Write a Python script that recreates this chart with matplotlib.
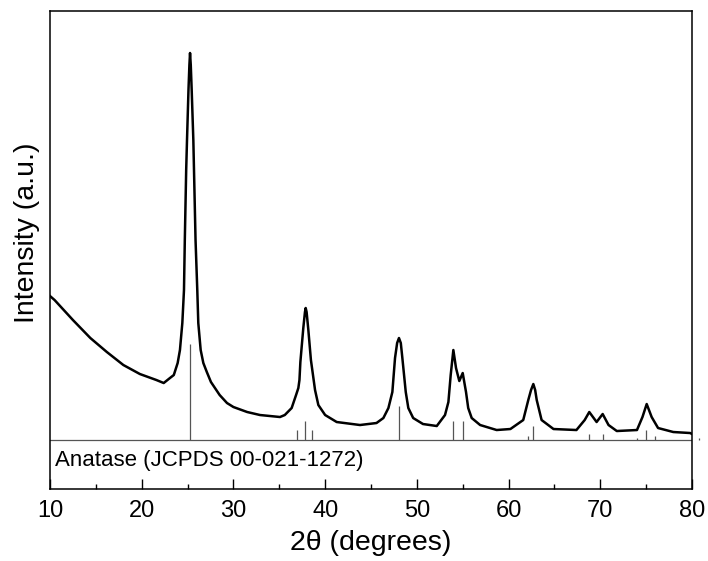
import numpy as np
import matplotlib
matplotlib.use("Agg")
import matplotlib.pyplot as plt
from matplotlib.ticker import MultipleLocator

plt.rcParams['font.family'] = ['Liberation Sans', 'DejaVu Sans']

# XRD 图谱数据 (2theta, 相对强度)
two_theta = [10.0, 10.5, 11.0, 12.5, 14.4, 16.2, 18.0, 19.8, 21.6, 22.4, 23.08, 23.5,
             23.92, 24.17, 24.43, 24.61, 24.7, 24.85, 24.94, 25.1, 25.2, 25.27, 25.35,
             25.45, 25.63, 25.75, 25.87, 26.06, 26.17, 26.43, 26.72, 27.1, 27.55, 28.5,
             29.3, 30.0, 31.5, 32.9, 35.08, 35.6, 36.35, 36.83, 37.08, 37.2, 37.3, 37.62,
             37.8, 37.88, 37.98, 38.17, 38.45, 38.9, 39.26, 40.0, 41.26, 43.8, 45.6,
             46.35, 46.9, 47.33, 47.62, 47.85, 48.05, 48.25, 48.42, 48.79, 49.07, 49.6,
             50.67, 52.17, 53.07, 53.44, 53.69, 53.98, 54.27, 54.63, 55.0, 55.36, 55.6,
             55.98, 56.9, 58.7, 60.2, 61.6, 62.15, 62.45, 62.7, 62.9, 63.07, 63.6, 64.9,
             67.4, 68.3, 68.8, 69.6, 70.26, 70.9, 71.8, 74.0, 74.6, 75.06, 75.6, 76.3,
             77.96, 79.8, 80.0]
intensity = [144, 140, 135, 120, 102, 88, 75, 66, 60, 57, 62, 65,
             77, 90, 117, 150, 200, 270, 300, 350, 375, 387, 375,
             350, 300, 250, 200, 150, 117, 90, 77, 68, 58, 45,
             37, 33, 28, 25, 23, 25, 32, 45, 52, 60, 78, 112,
             128, 132, 128, 110, 80, 50, 35, 25, 18, 15, 17,
             22, 32, 48, 82, 97, 102, 97, 82, 48, 32, 22,
             16, 14, 25, 38, 65, 90, 72, 59, 67, 48, 32,
             22, 15, 10, 11, 20, 40, 50, 56, 50, 40, 20, 11,
             10, 20, 28, 18, 26, 15, 9, 10, 23, 36, 23, 12,
             8, 7, 6]

# 标准卡片 JCPDS 00-021-1272 (锐钛矿)
ref_pos = [25.28, 36.95, 37.80, 38.58, 48.05, 53.89, 55.06, 62.12, 62.69,
           68.76, 70.31, 74.03, 75.03, 76.02, 80.72]
ref_int = [96, 10, 19, 10, 34, 19, 19, 4, 14, 6, 6, 2, 10, 4, 2]

fig = plt.figure(figsize=(7.08, 5.61), dpi=100)
ax = fig.add_axes([0.0706, 0.1283, 0.9068, 0.8521])

ax.plot(two_theta, intensity, color='black', lw=1.8)
sticks = ax.vlines(ref_pos, 0, ref_int, color='#555555', lw=0.9)
sticks.set_clip_on(False)
ax.axhline(0, color='#555555', lw=0.9)

ax.text(10.5, -20, 'Anatase (JCPDS 00-021-1272)', fontsize=16, va='center', ha='left')

ax.set_xlim(10, 80)
ax.set_ylim(-49, 429)
ax.xaxis.set_major_locator(MultipleLocator(10))
ax.xaxis.set_minor_locator(MultipleLocator(5))
ax.tick_params(axis='x', which='major', direction='in', length=7, width=1.0,
               labelsize=17, pad=8)
ax.tick_params(axis='x', which='minor', direction='in', length=3.6, width=1.0)
ax.set_yticks([])
for s in ax.spines.values():
    s.set_linewidth(1.1)

ax.set_xlabel('2θ (degrees)', fontsize=20.5, labelpad=6)
ax.set_ylabel('Intensity (a.u.)', fontsize=20.5)
ax.yaxis.set_label_coords(-0.016, 0.536)

fig.savefig('out.png', dpi=100)
